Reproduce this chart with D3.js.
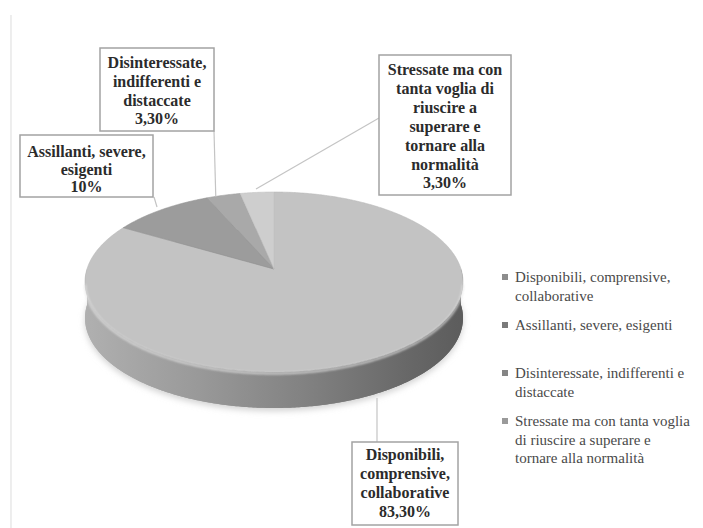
<!DOCTYPE html>
<html>
<head>
<meta charset="utf-8">
<script src="https://cdn.jsdelivr.net/npm/d3@7"></script>
<style>
  html, body { margin: 0; padding: 0; background: #ffffff; }
  svg { display: block; }
  svg text { font-family: "Liberation Serif", "DejaVu Serif", "Times New Roman", Times, serif; }
</style>
</head>
<body>
<svg id="chart" width="703" height="528"></svg>
<script>
// ---- data ----
const categories = [
  "Disponibili, comprensive, collaborative",
  "Assillanti, severe, esigenti",
  "Disinteressate, indifferenti e distaccate",
  "Stressate ma con tanta voglia di riuscire a superare e tornare alla normalità"
];
const values = [83.3, 10, 3.3, 3.3];
const valueLabels = ["83,30%", "10%", "3,30%", "3,30%"];
const labelLines = [
  ["Disponibili,", "comprensive,", "collaborative"],
  ["Assillanti, severe,", "esigenti"],
  ["Disinteressate,", "indifferenti e", "distaccate"],
  ["Stressate ma con", "tanta voglia di", "riuscire a", "superare e", "tornare alla", "normalità"]
];
const legendLines = [
  ["Disponibili, comprensive,", "collaborative"],
  ["Assillanti, severe, esigenti"],
  ["Disinteressate, indifferenti e", "distaccate"],
  ["Stressate ma con tanta voglia", "di riuscire a superare e", "tornare alla normalità"]
];

// ---- styling / layout ----
const topColors = ["#c3c3c3", "#9c9c9c", "#a9a9a9", "#cecece"];
const legendColors = ["#8d8d8d", "#7a7a7a", "#858585", "#9a9a9a"];

const svg = d3.select("#chart");
const defs = svg.append("defs");

const sg = defs.append("linearGradient").attr("id", "sideGrad")
  .attr("x1", "0").attr("x2", "1").attr("y1", "0").attr("y2", "0");
[["0%", "#b0b0b0"], ["30%", "#999999"], ["60%", "#808080"], ["85%", "#686868"], ["100%", "#5c5c5c"]]
  .forEach(([o, c]) => sg.append("stop").attr("offset", o).attr("stop-color", c));

const blur = defs.append("filter").attr("id", "blur").attr("x", "-20%").attr("y", "-20%")
  .attr("width", "140%").attr("height", "140%");
blur.append("feGaussianBlur").attr("stdDeviation", 3);
const blur1 = defs.append("filter").attr("id", "blur1");
blur1.append("feGaussianBlur").attr("stdDeviation", 1);

svg.append("line").attr("x1", 11).attr("x2", 11).attr("y1", 15).attr("y2", 528)
  .attr("stroke", "#e2e2e2").attr("stroke-width", 1.2);

// ---- 3D pie projection ----
const cx = 274, cy = 269, A = 187, B = 88.1, D = 6.92, depth = 36;
function proj(a, dz = 0) {
  const u = Math.sin(a), v = -Math.cos(a);
  const w = D / (D - v);
  return [cx + A * u * w, cy + B * v * w + dz];
}
function arcPoints(a0, a1, dz = 0) {
  const n = Math.max(2, Math.ceil(Math.abs(a1 - a0) / 0.01));
  return d3.range(n + 1).map(i => proj(a0 + (a1 - a0) * i / n, dz));
}

const pie = d3.pie().sort(null).value(d => d)(values);
const line = d3.line();

// shadow
svg.append("path")
  .attr("d", line(arcPoints(0, 2 * Math.PI, depth + 3)) + "Z")
  .attr("fill", "#d2d2d2").attr("filter", "url(#blur)");

// side
svg.append("path")
  .attr("d", line(arcPoints(0, 2 * Math.PI, depth)) + "Z")
  .attr("fill", "url(#sideGrad)");
const frontTop = arcPoints(Math.PI / 2, 3 * Math.PI / 2, 0);
const frontBot = arcPoints(3 * Math.PI / 2, Math.PI / 2, depth);
svg.append("path")
  .attr("d", line(frontTop.concat(frontBot)) + "Z")
  .attr("fill", "url(#sideGrad)");

// top slices
svg.append("g").selectAll("path").data(pie).join("path")
  .attr("d", d => line([[cx, cy]].concat(arcPoints(d.startAngle, d.endAngle, 0))) + "Z")
  .attr("fill", (d, i) => topColors[i])
  .attr("stroke", (d, i) => d3.color(topColors[i]).darker(0.15))
  .attr("stroke-width", 0.6)
  .attr("stroke-linejoin", "round");

// bevel highlight along the front edge
svg.append("path")
  .attr("d", line(arcPoints(Math.PI * 0.55, Math.PI * 1.45, 1.5)))
  .attr("fill", "none").attr("stroke", "#e6e6e6").attr("stroke-width", 2)
  .attr("opacity", 0.8).attr("filter", "url(#blur1)");

// ---- leader lines ----
const mid = pie.map(d => (d.startAngle + d.endAngle) / 2);
const leaders = [
  { from: [377, 442], to: [377, 398] },
  { from: [154, 197], to: [157, 207] },
  { from: [214, 131], to: proj(mid[2] - 0.05, 0) },
  { from: [379, 118], to: [256, 189] }
];
svg.append("g").selectAll("line").data(leaders).join("line")
  .attr("x1", d => d.from[0]).attr("y1", d => d.from[1])
  .attr("x2", d => d.to[0]).attr("y2", d => d.to[1])
  .attr("stroke", "#c4c4c4").attr("stroke-width", 1.2);

// ---- data label boxes ----
const boxes = [
  { x: 352, y: 442, w: 106, h: 83, base: 460, step: 19 },
  { x: 20, y: 135, w: 133, h: 62, base: 157, step: 17.5 },
  { x: 100, y: 48, w: 114, h: 83, base: 68, step: 18.8 },
  { x: 379, y: 55, w: 132, h: 140, base: 75, step: 18.9 }
];
const lg = svg.append("g");
boxes.forEach((b, i) => {
  const g = lg.append("g");
  g.append("rect").attr("x", b.x).attr("y", b.y).attr("width", b.w).attr("height", b.h)
    .attr("fill", "#ffffff").attr("stroke", "#a3a3a3").attr("stroke-width", 1.5);
  const lines = labelLines[i].concat([valueLabels[i]]);
  g.selectAll("text").data(lines).join("text")
    .attr("x", b.x + b.w / 2)
    .attr("y", (d, j) => b.base + j * b.step)
    .attr("text-anchor", "middle")
    .style("font-weight", "bold").style("font-size", "16px")
    .attr("fill", "#2b2b2b")
    .text(d => d);
});

// ---- legend ----
const legendBase = [282, 330, 378, 426];
const legendStep = 18.5;
const leg = svg.append("g");
categories.forEach((c, i) => {
  leg.append("rect").attr("x", 502).attr("y", legendBase[i] - 8).attr("width", 6).attr("height", 6)
    .attr("fill", legendColors[i]);
  leg.append("g").selectAll("text").data(legendLines[i]).join("text")
    .attr("x", 515).attr("y", (d, j) => legendBase[i] + j * legendStep)
    .style("font-size", "15px").attr("fill", "#4a4a4a")
    .text(d => d);
});
</script>
</body>
</html>
